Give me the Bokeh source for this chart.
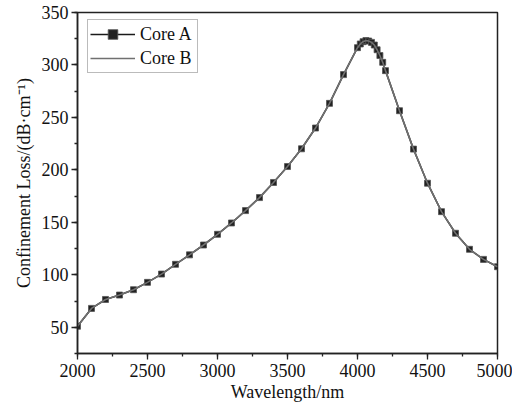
from bokeh.plotting import figure
from bokeh.models import Range1d, SingleIntervalTicker, Legend, LegendItem
from bokeh.embed import file_html
from bokeh.resources import INLINE

wavelength = [2000, 2100, 2200, 2300, 2400, 2500, 2600, 2700, 2800, 2900,
              3000, 3100, 3200, 3300, 3400, 3500, 3600, 3700, 3800, 3900,
              4000, 4020, 4040, 4060, 4080, 4100, 4120, 4140, 4160, 4180,
              4200, 4300, 4400, 4500, 4600, 4700, 4800, 4900, 5000]
core_a = [51.0, 68.0, 76.5, 80.7, 85.8, 92.8, 100.7, 110.0, 119.0, 128.4,
          138.6, 149.4, 161.2, 173.6, 188.0, 203.2, 220.1, 239.9, 263.4, 290.8,
          316.5, 320.0, 322.2, 323.2, 322.8, 321.5, 319.0, 314.5, 309.0, 302.5,
          294.6, 256.4, 219.8, 187.3, 160.2, 139.6, 124.3, 114.7, 107.7]
core_b = list(core_a)

FONT = "Liberation Serif"

p = figure(width=512, height=404, output_backend="svg", toolbar_location=None,
           x_range=Range1d(2000, 5000), y_range=Range1d(25, 350),
           min_border_left=77, min_border_right=15, min_border_top=12,
           min_border_bottom=51)

p.background_fill_color = "white"
p.border_fill_color = "white"
p.outline_line_color = "#222222"
p.outline_line_width = 1.5
p.xgrid.visible = False
p.ygrid.visible = False

ra_line = p.line(wavelength, core_a, line_color="#1a1a1a", line_width=1.6)
ra_pts = p.scatter(wavelength, core_a, marker="square", size=6,
                   fill_color="#222222", line_color="#555555", line_width=0.8)
rb = p.line(wavelength, core_b, line_color="#707070", line_width=1.6)

for ax in (p.xaxis[0], p.yaxis[0]):
    ax.axis_line_color = "#222222"
    ax.axis_line_width = 1.5
    ax.major_tick_line_color = "#222222"
    ax.minor_tick_line_color = "#222222"
    ax.major_tick_line_width = 1.3
    ax.minor_tick_line_width = 1.3
    ax.major_tick_out = 6
    ax.major_tick_in = 0
    ax.minor_tick_out = 3
    ax.minor_tick_in = 0
    ax.major_label_text_font = FONT
    ax.major_label_text_font_size = "18px"
    ax.major_label_text_color = "#111111"
    ax.axis_label_text_font = FONT
    ax.axis_label_text_font_size = "18px"
    ax.axis_label_text_font_style = "normal"
    ax.axis_label_text_color = "#111111"

p.xaxis[0].ticker = SingleIntervalTicker(interval=500, num_minor_ticks=2)
p.yaxis[0].ticker = SingleIntervalTicker(interval=50, num_minor_ticks=2)
p.xaxis[0].axis_label = "Wavelength/nm"
p.yaxis[0].axis_label = "Confinement Loss/(dB\u00b7cm\u207b\u00b9)"
p.xaxis[0].major_label_standoff = 4
p.yaxis[0].major_label_standoff = 3
p.xaxis[0].axis_label_standoff = 2
p.yaxis[0].axis_label_standoff = 5

legend = Legend(items=[LegendItem(label="Core A", renderers=[ra_line, ra_pts]),
                       LegendItem(label="Core B", renderers=[rb])],
                location=(10, 280))
legend.label_text_font = FONT
legend.label_text_font_size = "18px"
legend.label_text_color = "#111111"
legend.border_line_color = "#777777"
legend.border_line_width = 1
legend.padding = 2
legend.spacing = 0
legend.margin = 0
legend.glyph_width = 45
legend.glyph_height = 24
legend.label_standoff = 5
legend.label_height = 24
legend.label_width = 55
legend.background_fill_alpha = 1.0
p.add_layout(legend, "center")

open("out.html", "w").write(file_html(p, INLINE))
